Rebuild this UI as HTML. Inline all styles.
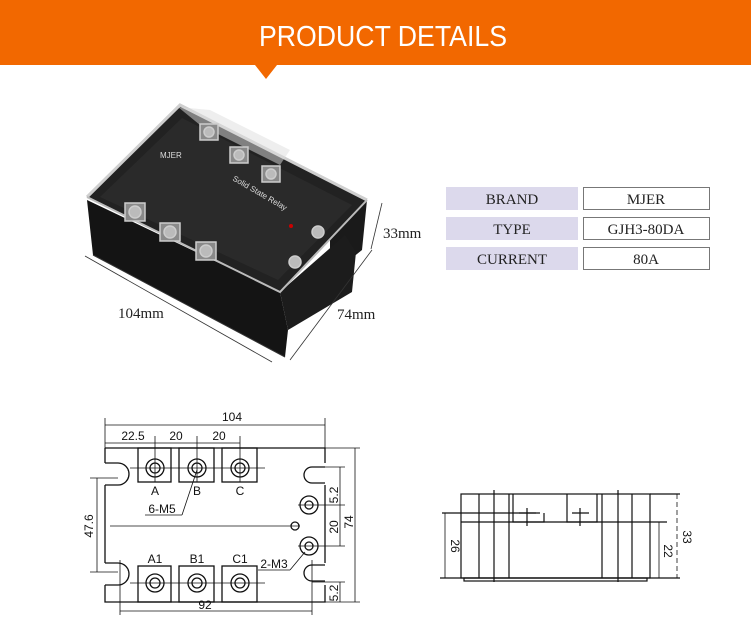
<!DOCTYPE html>
<html><head><meta charset="utf-8"><style>
html,body{margin:0;padding:0;background:#fff;width:751px;height:624px;overflow:hidden}
svg{display:block}
</style></head><body>
<svg width="751" height="624" viewBox="0 0 751 624" xmlns="http://www.w3.org/2000/svg">
<rect x="0" y="0" width="751" height="65" fill="#f26800"/>
<polygon points="255,65 277,65 266,79" fill="#f26800"/>
<text x="383" y="46" text-anchor="middle" font-family="Liberation Sans, sans-serif" font-size="29" fill="#fff" transform="translate(383 0) scale(0.92 1) translate(-383 0)">PRODUCT  DETAILS</text>

<g>
 <polygon points="330,190 367,200 362,250 352,258 330,262" fill="#1a1a1a"/>
 <polygon points="87,200 280,292 288,330 285,357 93,255" fill="#141414"/>
 <polygon points="280,292 345,235 356,252 352,292 288,330" fill="#1c1c1c"/>
 <line x1="93" y1="255" x2="285" y2="357" stroke="#333" stroke-width="1"/>
 <polygon points="87,197 180,105 367,200 280,292" fill="#222"/>
 <polygon points="100,197 182,118 352,205 278,280" fill="#2a2a2a"/>
 <polyline points="87,197 180,105 367,200" fill="none" stroke="#cfcfcf" stroke-width="3"/>
 <polyline points="87,197 280,292 367,200" fill="none" stroke="#bbb" stroke-width="2"/>
 <polygon points="178,107 210,110 290,150 280,165 200,125" fill="#ddd" opacity="0.5"/>
 <g fill="#8a8a8a" stroke="#ccc" stroke-width="1.5">
  <rect x="125" y="203" width="20" height="18"/><circle cx="135" cy="212" r="6" fill="#bbb"/>
  <rect x="160" y="223" width="20" height="18"/><circle cx="170" cy="232" r="6" fill="#bbb"/>
  <rect x="196" y="242" width="20" height="18"/><circle cx="206" cy="251" r="6" fill="#bbb"/>
  <rect x="200" y="124" width="18" height="16"/><circle cx="209" cy="132" r="5" fill="#bbb"/>
  <rect x="230" y="147" width="18" height="16"/><circle cx="239" cy="155" r="5" fill="#bbb"/>
  <rect x="262" y="166" width="18" height="16"/><circle cx="271" cy="174" r="5" fill="#bbb"/>
  <circle cx="318" cy="232" r="6" fill="#bbb"/>
  <circle cx="295" cy="262" r="6" fill="#bbb"/>
 </g>
 <circle cx="291" cy="226" r="2" fill="#c00"/>
 <g font-family="Liberation Sans, sans-serif" fill="#ddd" font-size="8">
  <text x="232" y="180" transform="rotate(30 232 180)">Solid State Relay</text>
  <text x="160" y="158">MJER</text>
 </g>
</g>
<g stroke="#333" stroke-width="0.8" fill="none">
 <line x1="85" y1="256" x2="272" y2="362"/>
 <line x1="290" y1="360" x2="372" y2="250"/>
 <line x1="382" y1="203" x2="371" y2="249"/>
</g>
<g font-family="Liberation Serif, serif" font-size="15" fill="#222">
 <text x="118" y="318">104mm</text>
 <text x="337" y="319">74mm</text>
 <text x="383" y="238">33mm</text>
</g>

<g font-family="Liberation Serif, serif" font-size="15" fill="#222" text-anchor="middle">
 <rect x="446" y="187" width="132" height="23" fill="#dcd9ec"/>
 <rect x="446" y="217" width="132" height="23" fill="#dcd9ec"/>
 <rect x="446" y="247" width="132" height="23" fill="#dcd9ec"/>
 <rect x="583.5" y="187.5" width="126" height="22" fill="#fff" stroke="#777"/>
 <rect x="583.5" y="217.5" width="126" height="22" fill="#fff" stroke="#777"/>
 <rect x="583.5" y="247.5" width="126" height="22" fill="#fff" stroke="#777"/>
 <text x="512" y="204">BRAND</text>
 <text x="512" y="234">TYPE</text>
 <text x="512" y="264">CURRENT</text>
 <text x="646" y="204">MJER</text>
 <text x="646" y="234">GJH3-80DA</text>
 <text x="646" y="264">80A</text>
</g>

<g stroke="#111" stroke-width="1.3" fill="none">
 <path d="M105,448 H325 V463 M325,485 V563 M325,585 V602 H105 V585 M105,563 V485 M105,463 V448"/>
 <path d="M105,463 H118 A11,11 0 0 1 118,485 H105"/>
 <path d="M105,563 H118 A11,11 0 0 1 118,585 H105"/>
 <path d="M325,467 H312 A8,8 0 0 0 312,483 H325"/>
 <path d="M325,565 H312 A8,8 0 0 0 312,581 H325"/>
 <rect x="138" y="448" width="33" height="34"/>
 <rect x="179" y="448" width="35" height="34"/>
 <rect x="222" y="448" width="35" height="34"/>
 <rect x="138" y="566" width="33" height="36"/>
 <rect x="179" y="566" width="35" height="36"/>
 <rect x="222" y="566" width="35" height="36"/>
 <circle cx="155" cy="468" r="9"/><circle cx="155" cy="468" r="5"/>
 <circle cx="197" cy="468" r="9"/><circle cx="197" cy="468" r="5"/>
 <circle cx="240" cy="468" r="9"/><circle cx="240" cy="468" r="5"/>
 <circle cx="155" cy="583" r="9"/><circle cx="155" cy="583" r="5"/>
 <circle cx="197" cy="583" r="9"/><circle cx="197" cy="583" r="5"/>
 <circle cx="240" cy="583" r="9"/><circle cx="240" cy="583" r="5"/>
 <circle cx="309" cy="505" r="9"/><circle cx="309" cy="505" r="4"/>
 <circle cx="309" cy="546" r="9"/><circle cx="309" cy="546" r="4"/>
 <circle cx="295" cy="526" r="4"/>
</g>
<g stroke="#111" stroke-width="0.8" fill="none">
 <line x1="110" y1="526" x2="300" y2="526"/>
 <line x1="105" y1="418" x2="105" y2="448"/><line x1="325" y1="418" x2="325" y2="448"/>
 <line x1="105" y1="425" x2="325" y2="425"/>
 <line x1="105" y1="443" x2="240" y2="443"/>
 <line x1="155" y1="436" x2="155" y2="482"/><line x1="197" y1="436" x2="197" y2="482"/><line x1="240" y1="436" x2="240" y2="482"/>
 <line x1="130" y1="468" x2="265" y2="468"/>
 <line x1="130" y1="583" x2="265" y2="583"/>
 <line x1="90" y1="478" x2="118" y2="478"/><line x1="90" y1="572" x2="118" y2="572"/>
 <line x1="97" y1="478" x2="97" y2="572"/>
 <line x1="325" y1="448" x2="360" y2="448"/><line x1="325" y1="602" x2="360" y2="602"/>
 <line x1="355" y1="448" x2="355" y2="602"/>
 <line x1="298" y1="505" x2="345" y2="505"/><line x1="298" y1="546" x2="345" y2="546"/>
 <line x1="312" y1="467" x2="345" y2="467"/><line x1="312" y1="582" x2="345" y2="582"/>
 <line x1="340" y1="467" x2="340" y2="505"/><line x1="340" y1="505" x2="340" y2="546"/><line x1="340" y1="582" x2="340" y2="602"/>
 <line x1="120" y1="560" x2="120" y2="615"/><line x1="312" y1="560" x2="312" y2="615"/>
 <line x1="120" y1="611" x2="312" y2="611"/>
 <line x1="197" y1="470" x2="182" y2="515"/><line x1="145" y1="515" x2="182" y2="515"/>
 <line x1="305" y1="552" x2="290" y2="570"/><line x1="258" y1="570" x2="290" y2="570"/>
</g>
<g font-family="Liberation Sans, sans-serif" font-size="12" fill="#111" text-anchor="middle">
 <text x="232" y="421">104</text>
 <text x="133" y="440">22.5</text>
 <text x="176" y="440">20</text>
 <text x="219" y="440">20</text>
 <text x="155" y="495">A</text><text x="197" y="495">B</text><text x="240" y="495">C</text>
 <text x="155" y="563">A1</text><text x="197" y="563">B1</text><text x="240" y="563">C1</text>
 <text x="162" y="513">6-M5</text>
 <text x="274" y="568">2-M3</text>
 <text x="205" y="609">92</text>
 <text transform="translate(93,526) rotate(-90)">47.6</text>
 <text transform="translate(353,522) rotate(-90)">74</text>
 <text transform="translate(338,495) rotate(-90)">5.2</text>
 <text transform="translate(338,527) rotate(-90)">20</text>
 <text transform="translate(338,593) rotate(-90)">5.2</text>
</g>

<g stroke="#111" stroke-width="1.2" fill="none">
 <rect x="461" y="494" width="189" height="84"/>
 <line x1="650" y1="494" x2="680" y2="494"/>
 <line x1="479" y1="494" x2="479" y2="578"/>
 <line x1="494" y1="490" x2="494" y2="582"/>
 <line x1="509" y1="494" x2="509" y2="578"/>
 <line x1="602" y1="494" x2="602" y2="578"/>
 <line x1="618" y1="490" x2="618" y2="582"/>
 <line x1="632" y1="494" x2="632" y2="578"/>
 <line x1="461" y1="522" x2="667" y2="522"/>
 <line x1="442" y1="513" x2="540" y2="513"/>
 <path d="M513,494 V522 H544 V513"/>
 <path d="M567,494 V522 H597 V494"/>
 <line x1="527" y1="508" x2="527" y2="526"/><line x1="519" y1="513" x2="536" y2="513"/>
 <line x1="580" y1="508" x2="580" y2="526"/><line x1="572" y1="513" x2="589" y2="513"/>
 <rect x="464" y="578" width="183" height="3"/>
 <line x1="440" y1="578" x2="680" y2="578"/>
</g>
<g stroke="#111" stroke-width="0.8">
 <line x1="445" y1="513" x2="445" y2="578"/>
 <line x1="659" y1="522" x2="659" y2="578"/>
 <line x1="677" y1="494" x2="677" y2="578" stroke-dasharray="5,3"/>
</g>
<g font-family="Liberation Sans, sans-serif" font-size="12" fill="#111" text-anchor="middle">
 <text transform="translate(451,546) rotate(90)">26</text>
 <text transform="translate(664,551) rotate(90)">22</text>
 <text transform="translate(683,537) rotate(90)">33</text>
</g>
</svg>
</body></html>
